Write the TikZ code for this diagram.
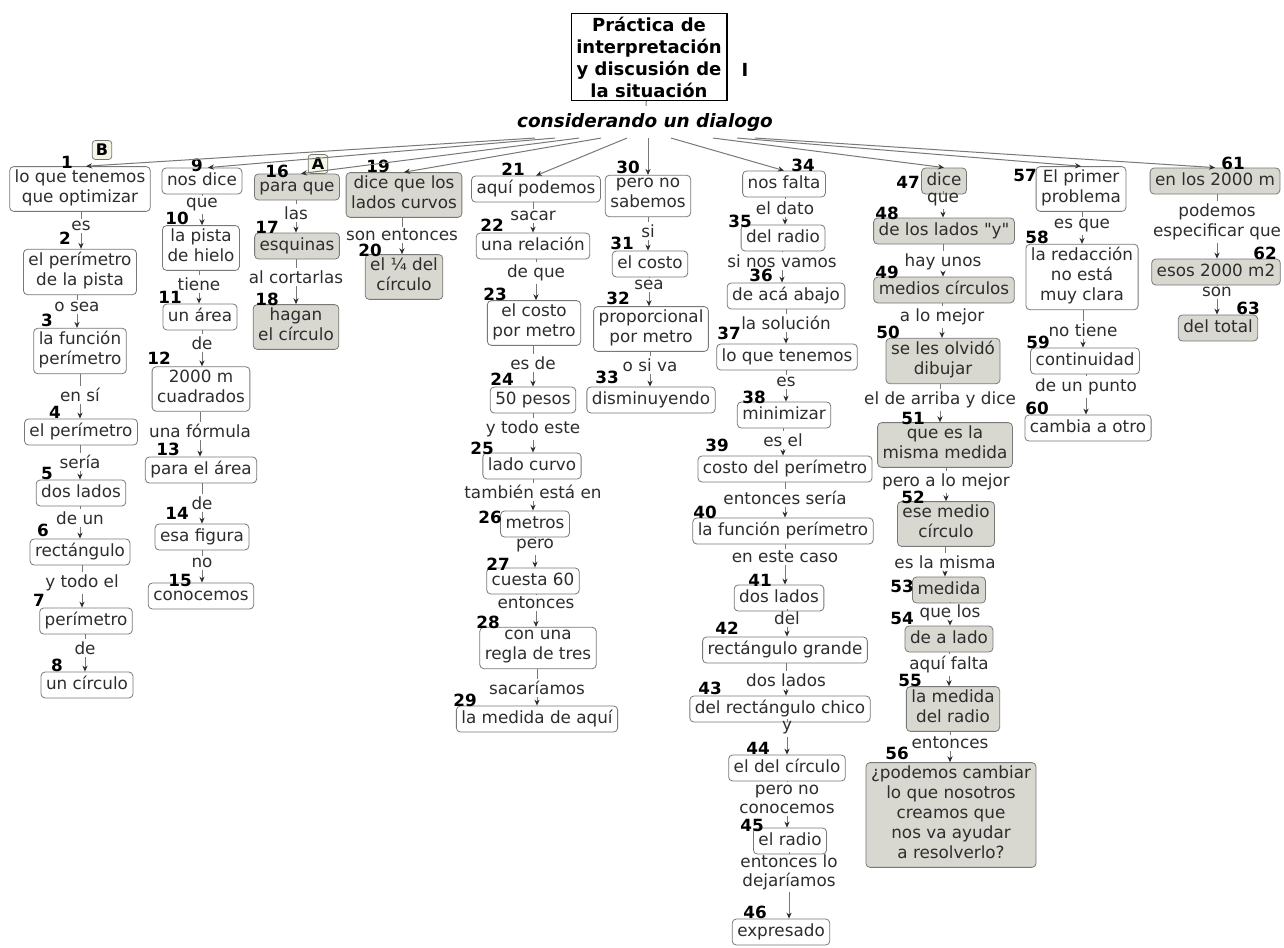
\documentclass[tikz,border=0pt]{standalone}
\usepackage{fontspec}
\setmainfont{DejaVu Sans}
\newfontfamily\quotefont{DejaVu Sans}
\usetikzlibrary{arrows.meta}
\definecolor{cfill}{RGB}{216,216,208}
\definecolor{cline}{RGB}{120,120,120}
\definecolor{ctext}{RGB}{45,45,45}
\definecolor{cmark}{RGB}{246,246,230}

\begin{document}
\begin{tikzpicture}[x=0.5pt,y=-0.5pt,
  >={Stealth[length=3pt,width=2.6pt,color=ctext]},
  wc/.style={draw=cline, rounded corners=2pt, fill=white, align=center,
    inner xsep=2.5pt, inner ysep=1.5pt, text=ctext,
    font=\fontsize{8.4}{10}\selectfont,
    execute at begin node=\strut, execute at end node=\strut},
  gc/.style={wc, fill=cfill},
  ph/.style={align=center, inner sep=1pt, text=ctext, font=\fontsize{8.4}{10}\selectfont},
  num/.style={inner sep=0pt, font=\fontsize{8.4}{10}\selectfont\bfseries},
  lk/.style={draw=cline, line width=0.5pt},
  mk/.style={draw=cline, rounded corners=1.5pt, fill=cmark, inner sep=1.8pt,
    font=\fontsize{8}{9}\selectfont\bfseries}]
\useasboundingbox (0,0) rectangle (1284,947);

% title
\node[draw, line width=0.8pt, align=center, inner xsep=2.5pt, inner ysep=1.5pt,
  font=\fontsize{9}{11}\selectfont\bfseries] (title) at (649,57)
  {Práctica de\\interpretación\\y discusión de\\la situación};
\node[font=\fontsize{9}{11}\selectfont\bfseries\rmfamily] (ti) at (745,70){I};
\node[font=\fontsize{9.2}{11}\selectfont\bfseries\itshape] (dlg) at (645,122){considerando un dialogo};
\draw[lk](title) -- (dlg);

\node[mk] (mB) at (102,150){B};
\node[mk] (mA) at (318,164){A};

% column 1
\node[wc] (c1) at (80,189){lo que tenemos\\que optimizar};
\node[wc] (c2) at (80,272){el perímetro\\de la pista};
\node[wc] (c3) at (80,351){la función\\perímetro};
\node[wc] (c4) at (81,432){el perímetro};
\node[wc] (c5) at (81,493){dos lados};
\node[wc] (c6) at (80,552){rectángulo};
\node[wc] (c7) at (86,621){perímetro};
\node[wc] (c8) at (87,685){un círculo};
\node[ph] (p2) at (81,226){es};
\node[ph] (p3) at (77,307){o sea};
\node[ph] (p4) at (80,395){en sí};
\node[ph] (p5) at (80,462){sería};
\node[ph] (p6) at (80,518){de un};
\node[ph] (p7) at (82,583){y todo el};
\node[ph] (p8) at (85,648){de};

% column 2
\node[wc] (c9) at (202,181){nos dice};
\node[wc] (c10) at (201,248){la pista\\de hielo};
\node[wc] (c11) at (200,317){un área};
\node[wc] (c12) at (201,389){2000 m\\cuadrados};
\node[wc] (c13) at (201,470){para el área};
\node[wc] (c14) at (202,537){esa figura};
\node[wc] (c15) at (201,596){conocemos};
\node[ph] (p10) at (202,205){que};
\node[ph] (p11) at (199,284){tiene};
\node[ph] (p12) at (202,343){de};
\node[ph] (p13) at (200,431){una fórmula};
\node[ph] (p14) at (202,503){de};
\node[ph] (p15) at (202,563){no};

% column 3
\node[gc] (c16) at (297,187){para que};
\node[gc] (c17) at (297,246){esquinas};
\node[gc] (c18) at (296,327){hagan\\el círculo};
\node[gc] (c19) at (404,195){dice que los\\lados curvos};
\node[gc] (c20) at (404,277){el ¼ del\\círculo};
\node[ph] (p17) at (296,213){las};
\node[ph] (p18) at (296,277){al cortarlas};
\node[ph] (p20) at (402,235){son entonces};

% column 4
\node[wc] (c21) at (536,189){aquí podemos};
\node[wc] (c22) at (533,246){una relación};
\node[wc] (c23) at (534,323){el costo\\por metro};
\node[wc] (c24) at (533,400){50 pesos};
\node[wc] (c25) at (532,466){lado curvo};
\node[wc] (c26) at (535,524){metros};
\node[wc] (c27) at (533,581){cuesta 60};
\node[wc] (c28) at (538,648){con una\\regla de tres};
\node[wc] (c29) at (537,719){la medida de aquí};
\node[ph] (p22) at (533,216){sacar};
\node[ph] (p23) at (536,273){de que};
\node[ph] (p24) at (533,363){es de};
\node[ph] (p25) at (533,429){y todo este};
\node[ph] (p26) at (533,492){también está en};
\node[ph] (p27) at (535,546){pero};
\node[ph] (p28) at (536,603){entonces};
\node[ph] (p29) at (537,688){sacaríamos};

% column 5
\node[wc] (c30) at (648,196){pero no\\sabemos};
\node[wc] (c31) at (650,264){el costo};
\node[wc] (c32) at (651,329){proporcional\\por metro};
\node[wc] (c33) at (651,400){disminuyendo};
\node[ph] (p31) at (648,231){si};
\node[ph] (p32) at (649,285){sea};
\node[ph] (p33) at (650,365){o si va};

% column 6
\node[wc] (c34) at (784,184){nos falta};
\node[wc] (c35) at (783,238){del radio};
\node[wc] (c36) at (786,296){de acá abajo};
\node[wc] (c37) at (787,357){lo que tenemos};
\node[wc] (c38) at (784,415){minimizar};
\node[wc] (c39) at (785,469){costo del perímetro};
\node[wc] (c40) at (783,531){la función perímetro};
\node[wc] (c41) at (779,598){dos lados};
\node[wc] (c42) at (785,650){rectángulo grande};
\node[wc] (c43) at (780,709){del rectángulo chico};
\node[wc] (c44) at (787,768){el del círculo};
\node[wc] (c45) at (790,841){el radio};
\node[wc] (c46) at (781,932){expresado};
\node[ph] (p35) at (785,208){el dato};
\node[ph] (p36) at (782,261){si nos vamos};
\node[ph] (p37) at (786,323){la solución};
\node[ph] (p38) at (786,382){es};
\node[ph] (p39) at (783,440){es el};
\node[ph] (p40) at (785,498){entonces sería};
\node[ph] (p41) at (785,557){en este caso};
\node[ph] (p42) at (787,618){del};
\node[ph] (p43) at (786,680){dos lados};
\node[ph] (p44) at (787,728){y};
\node[ph,font=\fontsize{8.4}{9.5}\selectfont] (p45) at (787,799){pero no\\conocemos};
\node[ph,font=\fontsize{8.4}{9.5}\selectfont] (p46) at (789,872){entonces lo\\dejaríamos};

% column 7
\node[gc] (c47) at (944,181){dice};
\node[gc] (c48) at (944,231){de los lados {\quotefont"}y{\quotefont"}};
\node[gc] (c49) at (944,290){medios círculos};
\node[gc] (c50) at (943,361){se les olvidó\\dibujar};
\node[gc] (c51) at (945,445){que es la\\misma medida};
\node[gc] (c52) at (946,524){ese medio\\círculo};
\node[gc] (c53) at (949,590){medida};
\node[gc] (c54) at (949,639){de a lado};
\node[gc] (c55) at (953,709){la medida\\del radio};
\node[gc] (c56) at (951,815){¿podemos cambiar\\lo que nosotros\\creamos que\\nos va ayudar\\a resolverlo?};
\node[ph] (p48) at (943,200){que};
\node[ph] (p49) at (943,262){hay unos};
\node[ph] (p50) at (942,317){a lo mejor};
\node[ph] (p51) at (940,400){el de arriba y dice};
\node[ph] (p52) at (946,482){pero a lo mejor};
\node[ph] (p53) at (945,562){es la misma};
\node[ph] (p54) at (950,613){que los};
\node[ph] (p55) at (949,665){aquí falta};
\node[ph] (p56) at (950,743){entonces};

% column 8
\node[wc] (c57) at (1081,189){El primer\\problema};
\node[wc] (c58) at (1082,277){la redacción\\no está\\muy clara};
\node[wc] (c59) at (1085,361){continuidad};
\node[wc] (c60) at (1088,428){cambia a otro};
\node[ph] (p58) at (1082,226){es que};
\node[ph] (p59) at (1083,330){no tiene};
\node[ph] (p60) at (1086,387){de un punto};

% column 9
\node[gc] (c61) at (1215,181){en los 2000 m};
\node[gc] (c62) at (1216,272){esos 2000 m2};
\node[gc] (c63) at (1218,328){del total};
\node[ph] (p62) at (1217,222){podemos\\especificar que};
\node[ph] (p63) at (1217,292){son};

% numbers
\node[num] (k1) at (67,162){1};
\node[num] (k2) at (65,238){2};
\node[num] (k3) at (47,320){3};
\node[num] (k4) at (55,412){4};
\node[num] (k5) at (47,473){5};
\node[num] (k6) at (43,530){6};
\node[num] (k7) at (39,600){7};
\node[num] (k8) at (57,665){8};
\node[num] (k9) at (197,165){9};
\node[num] (k10) at (177,218){10};
\node[num] (k11) at (170,297){11};
\node[num] (k12) at (159,358){12};
\node[num] (k13) at (168,449){13};
\node[num] (k14) at (177,513){14};
\node[num] (k15) at (180,580){15};
\node[num] (k16) at (277,171){16};
\node[num] (k17) at (267,227){17};
\node[num] (k18) at (267,299){18};
\node[num] (k19) at (378,166){19};
\node[num] (k20) at (370,250){20};
\node[num] (k21) at (513,169){21};
\node[num] (k22) at (492,225){22};
\node[num] (k23) at (495,294){23};
\node[num] (k24) at (502,379){24};
\node[num] (k25) at (482,448){25};
\node[num] (k26) at (490,517){26};
\node[num] (k27) at (498,564){27};
\node[num] (k28) at (488,622){28};
\node[num] (k29) at (465,700){29};
\node[num] (k30) at (628,167){30};
\node[num] (k31) at (622,243){31};
\node[num] (k32) at (618,298){32};
\node[num] (k33) at (607,377){33};
\node[num] (k34) at (803,165){34};
\node[num] (k35) at (740,221){35};
\node[num] (k36) at (761,275){36};
\node[num] (k37) at (729,333){37};
\node[num] (k38) at (754,397){38};
\node[num] (k39) at (717,445){39};
\node[num] (k40) at (705,512){40};
\node[num] (k41) at (760,580){41};
\node[num] (k42) at (727,628){42};
\node[num] (k43) at (710,688){43};
\node[num] (k44) at (758,748){44};
\node[num] (k45) at (752,825){45};
\node[num] (k46) at (755,912){46};
\node[num] (k47) at (908,182){47};
\node[num] (k48) at (887,213){48};
\node[num] (k49) at (887,272){49};
\node[num] (k50) at (888,332){50};
\node[num] (k51) at (913,418){51};
\node[num] (k52) at (913,497){52};
\node[num] (k53) at (902,586){53};
\node[num] (k54) at (902,618){54};
\node[num] (k55) at (910,680){55};
\node[num] (k56) at (897,753){56};
\node[num] (k57) at (1025,175){57};
\node[num] (k58) at (1037,237){58};
\node[num] (k59) at (1038,342){59};
\node[num] (k60) at (1037,408){60};
\node[num] (k61) at (1233,163){61};
\node[num] (k62) at (1265,253){62};
\node[num] (k63) at (1248,308){63};

% from the dialogue
\draw[lk,->]([xshift=-55]dlg.south) -- ([xshift=3]c1.north);
\draw[lk,->]([xshift=-45]dlg.south) -- ([xshift=3]c9.north);
\draw[lk,->]([xshift=-33]dlg.south) -- ([xshift=2]c16.north);
\draw[lk,->]([xshift=-22]dlg.south) -- (c19.north);
\draw[lk,->]([xshift=-9]dlg.south) -- (c21.north);
\draw[lk,->]([xshift=1.5]dlg.south) -- (c30.north);
\draw[lk,->]([xshift=13]dlg.south) -- (c34.north);
\draw[lk,->]([xshift=34]dlg.south) -- (c47.north);
\draw[lk,->]([xshift=46]dlg.south) -- (c57.north);
\draw[lk,->]([xshift=55]dlg.south) -- (c61.north);

% chains
\draw[lk](c1.south -| p2) -- (p2);  \draw[lk,->](p2) -- (c2.north -| p2);
\draw[lk](c2.south -| p3) -- (p3);  \draw[lk,->](p3) -- (c3.north -| p3);
\draw[lk](c3.south -| p4) -- (p4);  \draw[lk,->](p4) -- (c4.north -| p4);
\draw[lk](c4.south -| p5) -- (p5);  \draw[lk,->](p5) -- (c5.north -| p5);
\draw[lk](c5.south -| p6) -- (p6);  \draw[lk,->](p6) -- (c6.north -| p6);
\draw[lk](c6.south -| p7) -- (p7);  \draw[lk,->](p7) -- (c7.north -| p7);
\draw[lk](c7.south -| p8) -- (p8);  \draw[lk,->](p8) -- (c8.north -| p8);

\draw[lk](c9.south -| p10) -- (p10);  \draw[lk,->](p10) -- (c10.north -| p10);
\draw[lk](c10.south -| p11) -- (p11); \draw[lk,->](p11) -- (c11.north -| p11);
\draw[lk](c11.south -| p12) -- (p12); \draw[lk,->](p12) -- (c12.north -| p12);
\draw[lk](c12.south -| p13) -- (p13); \draw[lk,->](p13) -- (c13.north -| p13);
\draw[lk](c13.south -| p14) -- (p14); \draw[lk,->](p14) -- (c14.north -| p14);
\draw[lk](c14.south -| p15) -- (p15); \draw[lk,->](p15) -- (c15.north -| p15);

\draw[lk](c16.south -| p17) -- (p17); \draw[lk,->](p17) -- (c17.north -| p17);
\draw[lk](c17.south -| p18) -- (p18); \draw[lk,->](p18) -- (c18.north -| p18);
\draw[lk](c19.south -| p20) -- (p20); \draw[lk,->](p20) -- (c20.north -| p20);

\draw[lk](c21.south -| p22) -- (p22); \draw[lk,->](p22) -- (c22.north -| p22);
\draw[lk](c22.south -| p23) -- (p23); \draw[lk,->](p23) -- (c23.north -| p23);
\draw[lk](c23.south -| p24) -- (p24); \draw[lk,->](p24) -- (c24.north -| p24);
\draw[lk](c24.south -| p25) -- (p25); \draw[lk,->](p25) -- (c25.north -| p25);
\draw[lk](c25.south -| p26) -- (p26); \draw[lk,->](p26) -- (c26.north -| p26);
\draw[lk](c26.south -| p27) -- (p27); \draw[lk,->](p27) -- (c27.north -| p27);
\draw[lk](c27.south -| p28) -- (p28); \draw[lk,->](p28) -- (c28.north -| p28);
\draw[lk](c28.south -| p29) -- (p29); \draw[lk,->](p29) -- (c29.north -| p29);

\draw[lk](c30.south -| p31) -- (p31); \draw[lk,->](p31) -- (c31.north -| p31);
\draw[lk](c31.south -| p32) -- (p32); \draw[lk,->](p32) -- (c32.north -| p32);
\draw[lk](c32.south -| p33) -- (p33); \draw[lk,->](p33) -- (c33.north -| p33);

\draw[lk](c34.south -| p35) -- (p35); \draw[lk,->](p35) -- (c35.north -| p35);
\draw[lk](c35.south -| p36) -- (p36); \draw[lk,->](p36) -- (c36.north -| p36);
\draw[lk](c36.south -| p37) -- (p37); \draw[lk,->](p37) -- (c37.north -| p37);
\draw[lk](c37.south -| p38) -- (p38); \draw[lk,->](p38) -- (c38.north -| p38);
\draw[lk](c38.south -| p39) -- (p39); \draw[lk,->](p39) -- (c39.north -| p39);
\draw[lk](c39.south -| p40) -- (p40); \draw[lk,->](p40) -- (c40.north -| p40);
\draw[lk](c40.south -| p41) -- (p41); \draw[lk,->](p41) -- (c41.north -| p41);
\draw[lk](c41.south -| p42) -- (p42); \draw[lk,->](p42) -- (c42.north -| p42);
\draw[lk](c42.south -| p43) -- (p43); \draw[lk,->](p43) -- (c43.north -| p43);
\draw[lk](c43.south -| p44) -- (p44); \draw[lk,->](p44) -- (c44.north -| p44);
\draw[lk](c44.south -| p45) -- (p45); \draw[lk,->](p45) -- (c45.north -| p45);
\draw[lk](c45.south -| p46) -- (p46); \draw[lk,->](p46) -- (c46.north -| p46);

\draw[lk](c47.south -| p48) -- (p48); \draw[lk,->](p48) -- (c48.north -| p48);
\draw[lk](c48.south -| p49) -- (p49); \draw[lk,->](p49) -- (c49.north -| p49);
\draw[lk](c49.south -| p50) -- (p50); \draw[lk,->](p50) -- (c50.north -| p50);
\draw[lk](c50.south -| p51) -- (p51); \draw[lk,->](p51) -- (c51.north -| p51);
\draw[lk](c51.south -| p52) -- (p52); \draw[lk,->](p52) -- (c52.north -| p52);
\draw[lk](c52.south -| p53) -- (p53); \draw[lk,->](p53) -- (c53.north -| p53);
\draw[lk](c53.south -| p54) -- (p54); \draw[lk,->](p54) -- (c54.north -| p54);
\draw[lk](c54.south -| p55) -- (p55); \draw[lk,->](p55) -- (c55.north -| p55);
\draw[lk](c55.south -| p56) -- (p56); \draw[lk,->](p56) -- (c56.north -| p56);

\draw[lk](c57.south -| p58) -- (p58); \draw[lk,->](p58) -- (c58.north -| p58);
\draw[lk](c58.south -| p59) -- (p59); \draw[lk,->](p59) -- (c59.north -| p59);
\draw[lk](c59.south -| p60) -- (p60); \draw[lk,->](p60) -- (c60.north -| p60);

\draw[lk](c61.south -| p62) -- (p62); \draw[lk,->](p62) -- (c62.north -| p62);
\draw[lk](c62.south -| p63) -- (p63); \draw[lk,->](p63) -- (c63.north -| p63);

\end{tikzpicture}
\end{document}
